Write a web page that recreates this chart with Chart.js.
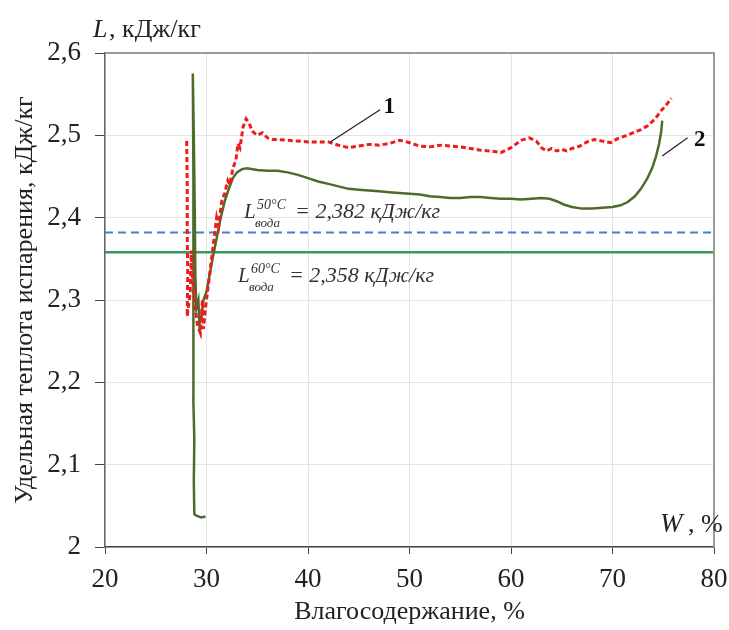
<!doctype html>
<html>
  <head>
    <script src="https://cdnjs.cloudflare.com/ajax/libs/Chart.js/4.4.1/chart.umd.js"></script>
    <style>
      body { margin:0; background:#fff; }
      #wrap { width:729px; height:630px; }
    </style>
    <script>
      // curve 1 (red dashed), [W %, L kJ/kg]
      let curve1W=[28.05,28.1,28.1,28.15,28.1,28.4,28.5,28.6,28.9,29.1,29.4,29.6,29.7,29.9,30.1,30.3,30.6,30.8,31.0,31.2,31.5,31.8,32.1,32.3,32.6,32.9,33.1,33.3,33.6,33.9,34.2,34.5,35.0,35.5,36.0,36.5,37.0,38.0,39.0,40.0,41.0,42.0,43.0,44.0,45.0,46.0,47.0,48.0,49.0,49.5,50.0,51.0,52.0,53.0,54.0,55.0,56.0,57.0,58.0,59.0,60.0,61.0,61.8,62.5,63.0,63.5,64.0,64.5,65.0,65.5,66.0,66.8,67.5,68.2,69.0,69.8,70.5,71.2,72.0,72.8,73.5,74.2,74.8,75.3,75.8];
      let curve1L=[2.493,2.44,2.38,2.33,2.28,2.31,2.36,2.33,2.29,2.27,2.26,2.30,2.265,2.29,2.31,2.33,2.36,2.38,2.40,2.39,2.42,2.43,2.445,2.44,2.46,2.47,2.49,2.485,2.51,2.52,2.515,2.505,2.50,2.503,2.497,2.495,2.495,2.494,2.493,2.492,2.492,2.492,2.488,2.485,2.487,2.489,2.488,2.490,2.494,2.493,2.491,2.487,2.486,2.488,2.487,2.486,2.484,2.482,2.481,2.479,2.485,2.494,2.497,2.493,2.485,2.481,2.484,2.481,2.483,2.481,2.484,2.487,2.492,2.495,2.493,2.491,2.496,2.499,2.503,2.507,2.512,2.52,2.53,2.537,2.545];

      // curve 2 (dark green solid)
      let curve2W=[29.9,29.5,29.0,28.8,28.75,28.8,28.7,28.75,28.7,28.68,28.65,28.75,28.85,28.9,29.0,29.2,29.3,29.5,29.7,30.0,30.3,30.6,31.0,31.4,31.8,32.2,32.6,33.0,33.5,34.0,35.0,36.0,37.0,38.0,39.0,40.0,41.0,42.0,43.0,44.0,45.0,46.0,47.0,48.0,49.0,50.0,51.0,52.0,53.0,54.0,55.0,56.0,57.0,58.0,59.0,60.0,61.0,62.0,63.0,63.8,64.5,65.2,66.0,67.0,68.0,69.0,70.0,70.8,71.5,72.2,72.8,73.4,73.9,74.3,74.6,74.8,74.9];
      let curve2L=[2.037,2.036,2.038,2.04,2.08,2.13,2.18,2.24,2.32,2.45,2.575,2.50,2.40,2.33,2.29,2.30,2.27,2.28,2.30,2.31,2.33,2.35,2.375,2.40,2.42,2.435,2.448,2.455,2.459,2.460,2.458,2.457,2.457,2.455,2.452,2.448,2.444,2.441,2.438,2.435,2.434,2.433,2.432,2.431,2.430,2.429,2.428,2.426,2.425,2.424,2.424,2.425,2.425,2.424,2.423,2.423,2.422,2.423,2.424,2.423,2.420,2.416,2.413,2.411,2.411,2.412,2.413,2.415,2.419,2.426,2.435,2.447,2.460,2.475,2.490,2.505,2.518];

      // reference values for water
      let water50=2.382;
      let water60=2.358;

      let xTicks=[20,30,40,50,60,70,80];
      let yTicks=[2,2.1,2.2,2.3,2.4,2.5,2.6];

      // callout labels: [text, labelW, labelL, fromW, fromL, toW, toL]
      let callouts=[["1",48.0,2.534,47.1,2.531,42.2,2.492],["2",78.6,2.494,77.4,2.497,74.9,2.475]];
      // formula notes anchors [W, L]
      let note50=[33.7,2.400];
      let note60=[33.1,2.322];

      function toPoints(ws,ls){
        let pts=[];
        for(let i=0;i<ws.length;i++){ pts.push({x:ws[i],y:ls[i]}); }
        return pts;
      }

      const SERIF="'Liberation Serif','Times New Roman',serif";

      function drawNote(ctx,x,y,sup,val){
        ctx.fillStyle="#333";
        ctx.textBaseline="alphabetic";
        ctx.textAlign="left";
        ctx.font="italic 21px "+SERIF;
        ctx.fillText("L",x,y);
        ctx.font="italic 14px "+SERIF;
        ctx.fillText(sup,x+13,y-9);
        ctx.font="italic 13px "+SERIF;
        ctx.fillText("вода",x+11,y+9);
        ctx.font="italic 22px "+SERIF;
        ctx.fillText("= "+val+" кДж/кг",x+51,y);
      }

      let extras={
        id:'extras',
        afterDatasetsDraw(chart){
          let ctx=chart.ctx, xs=chart.scales.x, ys=chart.scales.y, a=chart.chartArea;
          ctx.save();
          // frame top & right
          ctx.strokeStyle="#9a9a9a"; ctx.lineWidth=2;
          ctx.beginPath();
          ctx.moveTo(a.left,a.top); ctx.lineTo(a.right,a.top); ctx.lineTo(a.right,a.bottom);
          ctx.stroke();
          // callouts
          for(let c of callouts){
            ctx.strokeStyle="#222"; ctx.lineWidth=1.2;
            ctx.beginPath();
            ctx.moveTo(xs.getPixelForValue(c[3]),ys.getPixelForValue(c[4]));
            ctx.lineTo(xs.getPixelForValue(c[5]),ys.getPixelForValue(c[6]));
            ctx.stroke();
            ctx.fillStyle="#111"; ctx.font="bold 23px "+SERIF;
            ctx.textAlign="center"; ctx.textBaseline="middle";
            ctx.fillText(c[0],xs.getPixelForValue(c[1]),ys.getPixelForValue(c[2]));
          }
          drawNote(ctx,xs.getPixelForValue(note50[0]),ys.getPixelForValue(note50[1]),"50°C","2,382");
          drawNote(ctx,xs.getPixelForValue(note60[0]),ys.getPixelForValue(note60[1]),"60°C","2,358");
          // axis unit labels
          ctx.fillStyle="#222"; ctx.textBaseline="alphabetic"; ctx.textAlign="left";
          ctx.font="italic 26px "+SERIF;
          ctx.fillText("L",a.left-12,a.top-16);
          ctx.font="26px "+SERIF;
          ctx.fillText(", кДж/кг",a.left+4,a.top-16);
          ctx.font="italic 27px "+SERIF;
          ctx.fillText("W",a.right-54,a.bottom-15);
          ctx.font="26px "+SERIF;
          ctx.fillText(", %",a.right-26,a.bottom-15);
          ctx.restore();
        }
      };

      let chart1;
      function startPage(){
        Chart.defaults.font.family=SERIF;
        Chart.defaults.color="#222";
        chart1=new Chart(document.getElementById("c1"),{
          type:'scatter',
          data:{
            datasets:[
              {label:'1',data:toPoints(curve1W,curve1L),showLine:true,borderColor:'#ee1c1c',borderWidth:3,borderDash:[5,3],pointRadius:0,tension:0},
              {label:'2',data:toPoints(curve2W,curve2L),showLine:true,borderColor:'#4e6b2c',borderWidth:2.5,pointRadius:0,tension:0},
              {label:'50',data:[{x:20,y:water50},{x:80,y:water50}],showLine:true,borderColor:'#4f7ad0',borderWidth:2,borderDash:[8,5],pointRadius:0},
              {label:'60',data:[{x:20,y:water60},{x:80,y:water60}],showLine:true,borderColor:'#3a9a5c',borderWidth:2.5,pointRadius:0}
            ]
          },
          options:{
            responsive:false,
            animation:false,
            layout:{padding:{top:53,right:15,left:0,bottom:0}},
            plugins:{legend:{display:false},tooltip:{enabled:false}},
            scales:{
              x:{
                type:'linear',min:20,max:80,
                afterBuildTicks(s){ s.ticks=xTicks.map(v=>({value:v})); },
                afterFit(s){ s.height=83; s.paddingLeft=0; s.paddingRight=0; },
                ticks:{font:{size:27},color:'#222',padding:10,maxRotation:0,callback:v=>String(v)},
                grid:{color:'#e4e4e4',tickColor:'#444',tickLength:7,lineWidth:1},
                border:{color:'#444',width:1.5},
                title:{display:true,text:'Влагосодержание, %',font:{size:26},color:'#222',padding:{top:0,bottom:2}}
              },
              y:{
                type:'linear',min:2,max:2.6,
                afterBuildTicks(s){ s.ticks=yTicks.map(v=>({value:v})); },
                afterFit(s){ s.width=105; s.paddingTop=0; s.paddingBottom=0; },
                ticks:{font:{size:27},color:'#222',padding:14,callback:v=>(v===2?"2":v.toFixed(1).replace('.',','))},
                grid:{color:'#e4e4e4',tickColor:'#444',tickLength:10,lineWidth:1},
                border:{color:'#666',width:1.5},
                title:{display:true,text:'Удельная теплота испарения, кДж/кг',font:{size:26},color:'#222',padding:{top:10,bottom:0}}
              }
            }
          },
          plugins:[extras]
        });
      }
    </script>
  </head>
  <body onload="startPage()">
    <div id="wrap">
      <canvas id="c1" width="729" height="630"></canvas>
    </div>
  </body>
</html>
